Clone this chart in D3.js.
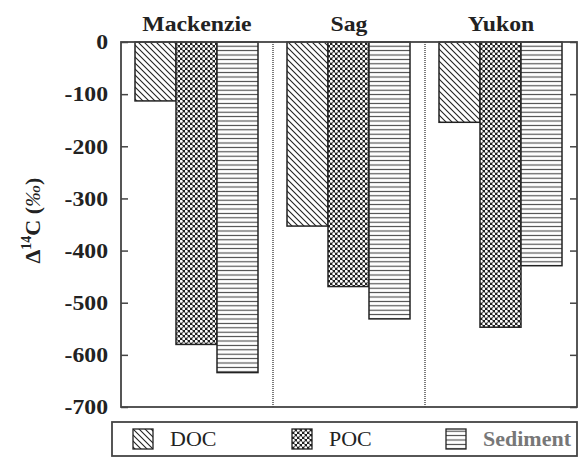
<!DOCTYPE html>
<html>
<head>
<meta charset="utf-8">
<script src="https://cdn.jsdelivr.net/npm/d3@7"></script>
<style>
  body { margin: 0; background: #fff; }
</style>
</head>
<body>
<div id="chart"></div>
<script>
// rivers (panels), fractions (bars) and Δ14C values
const rivers = ['Mackenzie', 'Sag', 'Yukon'];
const fractions = ['DOC', 'POC', 'Sediment'];
const doc = [-113, -353, -154];
const poc = [-580, -469, -547];
const sediment = [-634, -531, -429];
const yTicks = [0, -100, -200, -300, -400, -500, -600, -700];
const yTickLabels = ['0', '-100', '-200', '-300', '-400', '-500', '-600', '-700'];

const width = 579, height = 458;
const marginTop = 42, marginRight = 2, marginBottom = 51, marginLeft = 121;
const serif = '"Liberation Serif"';
const stretch = 1.13; // the scanned figure is a bit wider than tall

const series = { DOC: doc, POC: poc, Sediment: sediment };
const data = [];
rivers.forEach((r, i) => fractions.forEach(f => data.push({ river: r, fraction: f, value: series[f][i] })));

const x = d3.scaleBand(rivers, [marginLeft, width - marginRight]);
const xIn = d3.scaleBand(fractions, [14, x.bandwidth() - 15]);
const y = d3.scaleLinear([-700, 0], [height - marginBottom, marginTop]);

const svg = d3.select('#chart').append('svg')
  .attr('width', width)
  .attr('height', height);

// hatch patterns
const defs = svg.append('defs');
const pDoc = defs.append('pattern')
  .attr('id', 'p-DOC').attr('patternUnits', 'userSpaceOnUse')
  .attr('width', 6).attr('height', 6);
pDoc.append('rect').attr('width', 6).attr('height', 6).attr('fill', '#fff');
pDoc.append('path').attr('d', 'M-1,-1 L7,7 M-4,2 L4,10 M2,-4 L10,4')
  .attr('stroke', '#222').attr('stroke-width', 1.1);

const pPoc = defs.append('pattern')
  .attr('id', 'p-POC').attr('patternUnits', 'userSpaceOnUse')
  .attr('width', 5).attr('height', 5);
pPoc.append('rect').attr('width', 5).attr('height', 5).attr('fill', '#222');
pPoc.append('circle').attr('cx', 1.25).attr('cy', 1.25).attr('r', 1.45).attr('fill', '#fff');
pPoc.append('circle').attr('cx', 3.75).attr('cy', 3.75).attr('r', 1.45).attr('fill', '#fff');

const pSed = defs.append('pattern')
  .attr('id', 'p-Sediment').attr('patternUnits', 'userSpaceOnUse')
  .attr('width', 8).attr('height', 4.4);
pSed.append('rect').attr('width', 8).attr('height', 4.4).attr('fill', '#fff');
pSed.append('line').attr('x1', 0).attr('x2', 8).attr('y1', 2.2).attr('y2', 2.2)
  .attr('stroke', '#444').attr('stroke-width', 1.1);

// panel titles
svg.append('g')
  .selectAll('g')
  .data(rivers)
  .join('g')
  .attr('transform', d => `translate(${x(d) + x.bandwidth() / 2},31)`)
  .append('text')
  .attr('transform', `scale(${stretch},1)`)
  .attr('text-anchor', 'middle')
  .attr('font-size', 21)
  .attr('font-weight', 'bold')
  .attr('fill', '#222')
  .style('font-family', serif)
  .text(d => d);

// bars
svg.append('g')
  .selectAll('rect')
  .data(data)
  .join('rect')
  .attr('x', d => x(d.river) + xIn(d.fraction))
  .attr('y', y(0))
  .attr('width', xIn.bandwidth())
  .attr('height', d => y(d.value) - y(0))
  .attr('fill', d => `url(#p-${d.fraction})`)
  .attr('stroke', '#222')
  .attr('stroke-width', 1.5);

// dotted panel separators
svg.append('g')
  .selectAll('line')
  .data(rivers.slice(1))
  .join('line')
  .attr('x1', d => x(d)).attr('x2', d => x(d))
  .attr('y1', marginTop).attr('y2', height - marginBottom)
  .attr('stroke', '#444')
  .attr('stroke-width', 1.4)
  .attr('stroke-dasharray', '1,1');

// frame
svg.append('rect')
  .attr('x', marginLeft).attr('y', marginTop)
  .attr('width', width - marginRight - marginLeft)
  .attr('height', height - marginBottom - marginTop)
  .attr('fill', 'none')
  .attr('stroke', '#444')
  .attr('stroke-width', 1.8);

// left axis
const yAxis = d3.axisLeft(y)
  .tickValues(yTicks)
  .tickFormat((d, i) => yTickLabels[i])
  .tickSize(-7)
  .tickPadding(13);

svg.append('g')
  .attr('transform', `translate(${marginLeft},0)`)
  .call(yAxis)
  .attr('font-family', null)
  .call(g => g.select('.domain').remove())
  .call(g => g.selectAll('.tick line').attr('stroke', '#444').attr('stroke-width', 1.5))
  .call(g => g.selectAll('.tick text')
    .attr('x', -13 / stretch)
    .attr('transform', `scale(${stretch},1)`)
    .attr('font-size', 21)
    .attr('font-weight', 'bold')
    .attr('fill', '#222')
    .style('font-family', serif));

// right axis (ticks only)
svg.append('g')
  .attr('transform', `translate(${width - marginRight},0)`)
  .call(d3.axisRight(y).tickValues(yTicks).tickFormat('').tickSize(-7))
  .call(g => g.select('.domain').remove())
  .call(g => g.selectAll('.tick line').attr('stroke', '#444').attr('stroke-width', 1.5));

// y label
const yLab = svg.append('text')
  .attr('transform', `translate(40,${(marginTop + height - marginBottom) / 2 - 4}) rotate(-90)`)
  .attr('text-anchor', 'middle')
  .attr('font-size', 22)
  .attr('font-weight', 'bold')
  .attr('fill', '#222')
  .style('font-family', serif);
yLab.append('tspan').text('Δ');
yLab.append('tspan').attr('font-size', 14).attr('dy', -9).text('14');
yLab.append('tspan').attr('dy', 9).text('C (');
yLab.append('tspan').attr('font-style', 'italic').attr('font-weight', 'normal').text('‰');
yLab.append('tspan').text(')');

// legend
const legend = svg.append('g');
legend.append('rect')
  .attr('x', 112).attr('y', 422)
  .attr('width', 465).attr('height', 34)
  .attr('fill', '#fff')
  .attr('stroke', '#444')
  .attr('stroke-width', 1.8);

const legendX = [133, 292, 446];
const item = legend.selectAll('g')
  .data(fractions)
  .join('g')
  .attr('transform', (d, i) => `translate(${legendX[i]},429)`);
item.append('rect')
  .attr('width', 20).attr('height', 20)
  .attr('fill', d => `url(#p-${d})`)
  .attr('stroke', '#222')
  .attr('stroke-width', 1.3);
item.append('g')
  .attr('transform', 'translate(37,17)')
  .append('text')
  .attr('transform', 'scale(1.1,1)')
  .attr('font-size', 20)
  .attr('font-weight', d => d === 'Sediment' ? 'bold' : 'normal')
  .attr('fill', d => d === 'Sediment' ? '#777' : '#222')
  .style('font-family', serif)
  .text(d => d);
</script>
</body>
</html>
